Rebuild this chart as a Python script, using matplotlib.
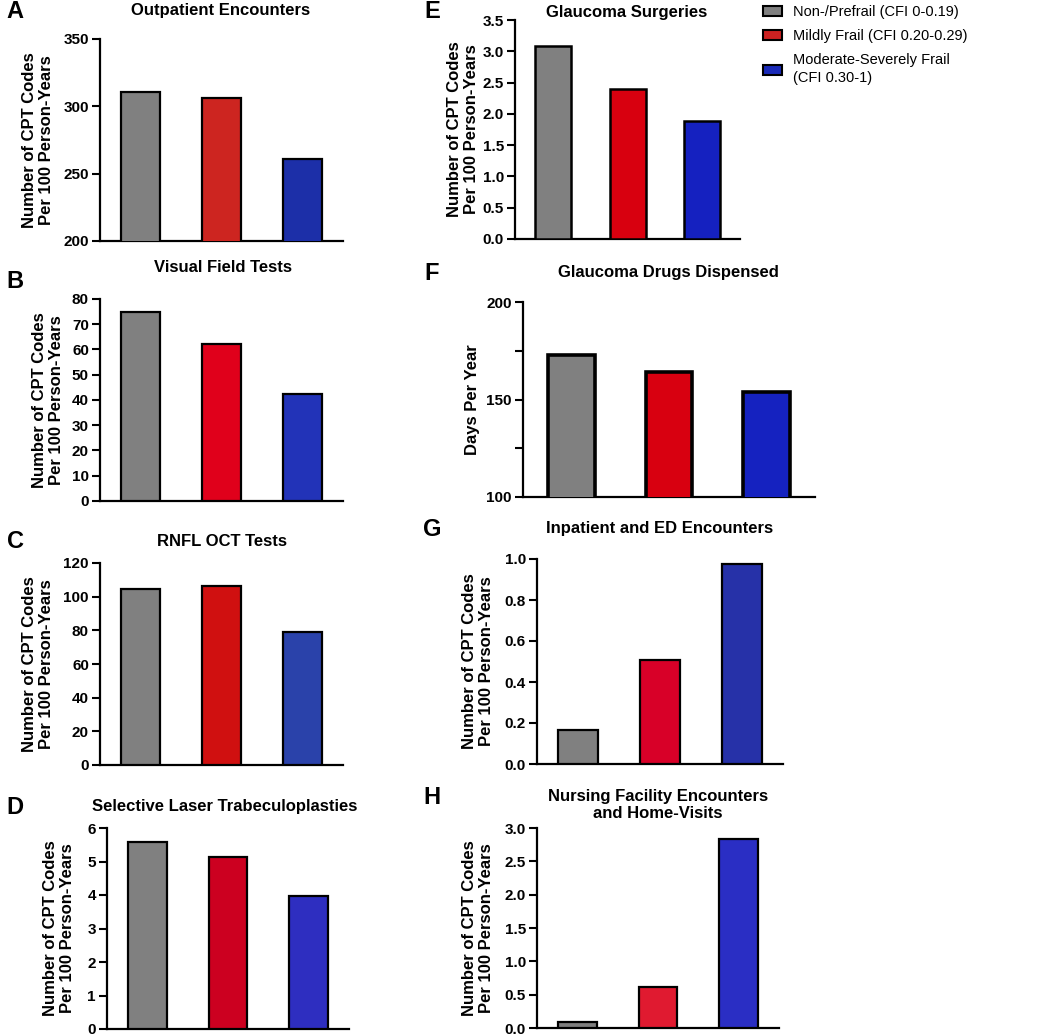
import matplotlib
matplotlib.use("Agg")
import matplotlib.pyplot as plt
from matplotlib.patches import Patch
from matplotlib.ticker import MultipleLocator, FormatStrFormatter

plt.rcParams['font.family'] = ['Liberation Sans', 'DejaVu Sans']

# ---------------- data ----------------
groups = ['Non-/Prefrail (CFI 0-0.19)', 'Mildly Frail (CFI 0.20-0.29)',
          'Moderate-Severely Frail\n(CFI 0.30-1)']
outpatient = [310.8, 306.4, 261.2]
visual_field = [74.8, 62.1, 42.5]
rnfl_oct = [104.5, 106.5, 79.3]
slt = [5.59, 5.13, 3.97]
glaucoma_surg = [3.08, 2.40, 1.88]
drug_days = [172.6, 164.0, 154.0]
inpatient_ed = [0.167, 0.506, 0.976]
nursing_home = [0.085, 0.608, 2.84]

W, H = 1050, 1036
fig = plt.figure(figsize=(W / 100, H / 100), dpi=100)

def px_axes(l, t, r, b):
    return fig.add_axes([l / W, 1 - b / H, (r - l) / W, (b - t) / H])

ylab_cpt = 'Number of CPT Codes\nPer 100 Person-Years'

panels = [
    # letter, title, values, (l,t,r,b), ylim, major, minor, ylabel, ylabel_x, title_xy, letter_xy, colors, edge lw, decimals
    ('A', 'Outpatient Encounters', outpatient, (100, 39, 343, 241), (200, 350), 50, None,
     ylab_cpt, 38, (221, 10), (15, 12), ['#808080', '#CD2520', '#1C2FA8'], 1.6, 0),
    ('B', 'Visual Field Tests', visual_field, (100, 299, 343, 501), (0, 80), 10, None,
     ylab_cpt, 48, (223, 267), (15, 282), ['#808080', '#E0001B', '#2233B8'], 1.6, 0),
    ('C', 'RNFL OCT Tests', rnfl_oct, (100, 563, 343, 765), (0, 120), 20, None,
     ylab_cpt, 38, (222, 541), (15, 541), ['#808080', '#D01010', '#2A42AA'], 1.6, 0),
    ('D', 'Selective Laser Trabeculoplasties', slt, (107, 828, 349, 1029), (0, 6), 1, None,
     ylab_cpt, 59, (225, 807), (15, 807), ['#808080', '#CC0020', '#2E2EC0'], 1.6, 0),
    ('E', 'Glaucoma Surgeries', glaucoma_surg, (515, 20, 740, 239), (0, 3.5), 0.5, None,
     ylab_cpt, 463, (627, 12), (432, 12), ['#808080', '#D8000F', '#1521C0'], 1.8, 1),
    ('F', 'Glaucoma Drugs Dispensed', drug_days, (523, 302, 815, 497), (100, 200), 50, 25,
     'Days Per Year', 473, (668, 273), (432, 273), ['#808080', '#D80010', '#1522C0'], 2.6, 0),
    ('G', 'Inpatient and ED Encounters', inpatient_ed, (537, 559, 783, 764), (0, 1.0), 0.2, None,
     ylab_cpt, 478, (660, 528), (432, 530), ['#808080', '#D80028', '#2631A8'], 1.6, 1),
    ('H', 'Nursing Facility Encounters\nand Home-Visits', nursing_home, (537, 828, 779, 1028), (0, 3.0), 0.5, None,
     ylab_cpt, 478, (658, 805), (432, 798), ['#808080', '#E01A30', '#2A2EC4'], 1.6, 1),
]

for (letter, title, vals, box, ylim, major, minor, ylabel, ylx, txy, lxy, cols, elw, dec) in panels:
    ax = px_axes(*box)
    x = list(range(len(vals)))
    ax.bar(x, vals, width=0.48, color=cols, edgecolor='black', linewidth=elw, zorder=3)
    ax.set_xlim(-0.5, 2.5)
    ax.set_ylim(*ylim)
    ax.yaxis.set_major_locator(MultipleLocator(major))
    if minor:
        ax.yaxis.set_minor_locator(MultipleLocator(minor))
        ax.tick_params(axis='y', which='minor', direction='out', length=6, width=1.5)
    ax.yaxis.set_major_formatter(FormatStrFormatter('%.' + str(dec) + 'f'))
    ax.set_xticks([])
    for s in ['top', 'right']:
        ax.spines[s].set_visible(False)
    for s in ['left', 'bottom']:
        ax.spines[s].set_linewidth(1.6)
    ax.tick_params(axis='y', which='major', direction='out', length=6, width=1.5,
                   labelsize=11, pad=2)
    for lab in ax.get_yticklabels():
        lab.set_fontweight('bold')
    cy = (box[1] + box[3]) / 2
    fig.text(ylx / W, 1 - cy / H, ylabel, rotation=90, ha='center', va='center',
             fontsize=12, fontweight='bold', multialignment='center', linespacing=1.15)
    fig.text(txy[0] / W, 1 - txy[1] / H, title, ha='center', va='center',
             fontsize=12, fontweight='bold', multialignment='center', linespacing=1.1)
    fig.text(lxy[0] / W, 1 - lxy[1] / H, letter, ha='center', va='center',
             fontsize=17, fontweight='bold')

# legend
leg_cols = ['#808080', '#CC2222', '#1A2AB8']
handles = [Patch(facecolor=c, edgecolor='black', linewidth=1.5) for c in leg_cols]
leg = fig.legend(handles, groups, loc='upper left', bbox_to_anchor=(763 / W, 1 - 5 / H),
                 frameon=False, fontsize=10.5, handlelength=1.3, handleheight=0.65,
                 handletextpad=0.75, labelspacing=0.7, borderaxespad=0, borderpad=0)
for t in leg.get_texts():
    t.set_linespacing(1.35)

fig.savefig('out.png', dpi=100)
